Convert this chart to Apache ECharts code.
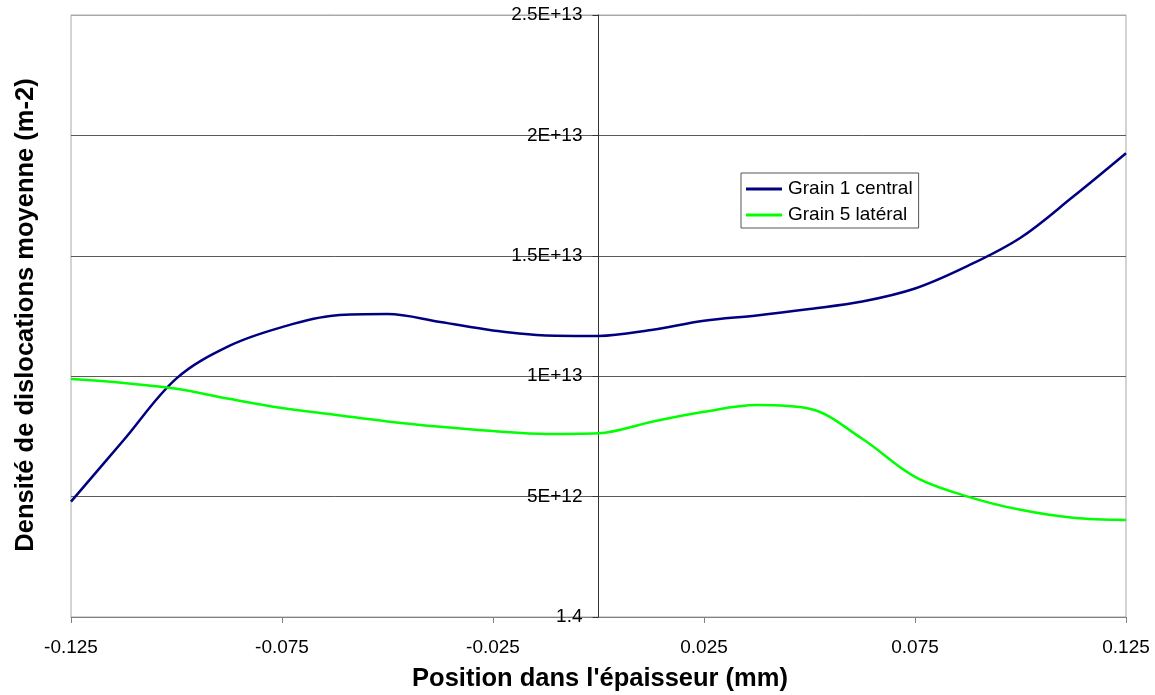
<!DOCTYPE html>
<html>
<head>
<meta charset="utf-8">
<script src="https://cdn.jsdelivr.net/npm/echarts@6/dist/echarts.min.js"></script>
<style>
html,body{margin:0;padding:0;background:#fff;}
#c{width:1155px;height:695px;}
</style>
</head>
<body>
<div id="c"></div>
<script>
// Data (x in mm, y in m-2)
const positions = [-0.125, -0.1125, -0.1, -0.0875, -0.075, -0.0625, -0.05, -0.0375, -0.025, -0.0125, 0,
                   0.0125, 0.025, 0.0375, 0.05, 0.0625, 0.075, 0.0875, 0.1, 0.1125, 0.125];
const grain1Central = [4.79e12, 7.35e12, 9.91e12, 11.26e12, 12.04e12, 12.52e12, 12.58e12, 12.25e12, 11.9e12, 11.69e12, 11.67e12,
                       11.92e12, 12.3e12, 12.52e12, 12.79e12, 13.1e12, 13.64e12, 14.58e12, 15.75e12, 17.46e12, 19.26e12];
const grain5Lateral = [9.88e12, 9.72e12, 9.48e12, 9.06e12, 8.68e12, 8.4e12, 8.12e12, 7.9e12, 7.72e12, 7.6e12, 7.63e12,
                       8.1e12, 8.52e12, 8.8e12, 8.65e12, 7.4e12, 5.82e12, 5.0e12, 4.45e12, 4.12e12, 4.03e12];
const seriesNames = ['Grain 1 central', 'Grain 5 latéral'];
const xTickLabels = ['-0.125', '-0.075', '-0.025', '0.025', '0.075', '0.125'];
const yTickLabels = ['1.4', '5E+12', '1E+13', '1.5E+13', '2E+13', '2.5E+13'];
const xTitle = "Position dans l'épaisseur (mm)";
const yTitle = 'Densité de dislocations moyenne (m-2)';

const FONT = "'Liberation Sans', Arial, sans-serif";
const pair = (ys) => positions.map((x, i) => [x, ys[i]]);

const chart = echarts.init(document.getElementById('c'), null, {renderer: 'canvas'});
chart.setOption({
  backgroundColor: '#ffffff',
  animation: false,
  textStyle: {fontFamily: FONT},
  grid: {left: 71, right: 29, top: 15, bottom: 78, containLabel: false, outerBoundsMode: 'none',
         show: true, borderColor: '#a8a8a8', borderWidth: 1, backgroundColor: '#ffffff'},
  legend: {
    orient: 'vertical', left: 741, top: 173,
    data: [{name: seriesNames[0], icon: 'rect'}, {name: seriesNames[1], icon: 'rect'}],
    itemWidth: 36, itemHeight: 3, itemGap: 6,
    padding: [6, 6, 3, 5],
    backgroundColor: '#ffffff', borderColor: '#555555', borderWidth: 1, borderRadius: 0,
    textStyle: {fontFamily: FONT, fontSize: 19, color: '#000', lineHeight: 20, padding: [0, 0, 0, 1]}
  },
  xAxis: {
    type: 'value', min: -0.125, max: 0.125, interval: 0.05,
    axisLine: {show: true, onZero: false, lineStyle: {color: '#808080', width: 1}},
    axisTick: {show: true, inside: false, length: 6, lineStyle: {color: '#808080'}},
    axisLabel: {show: true, margin: 21, fontFamily: FONT, fontSize: 19, color: '#000',
                showMinLabel: true, showMaxLabel: true,
                formatter: (v, i) => xTickLabels[i]},
    splitLine: {show: false}
  },
  yAxis: {
    type: 'value', min: 0, max: 2.5e13, interval: 5e12,
    position: 'left', offset: -527.5,
    axisLine: {show: true, onZero: false, lineStyle: {color: '#333333', width: 1}},
    axisTick: {show: true, inside: false, length: 6, lineStyle: {color: '#333333'}},
    axisLabel: {show: true, margin: 16, fontFamily: FONT, fontSize: 19, color: '#000',
                showMinLabel: true, showMaxLabel: true, padding: [2, 0, 0, 0],
                formatter: (v, i) => yTickLabels[i]},
    splitLine: {show: true, lineStyle: {color: ['#808080', '#5a5a5a', '#5a5a5a', '#5a5a5a', '#5a5a5a', '#a8a8a8'], width: 1}}
  },
  series: [
    {name: seriesNames[0], type: 'line', data: pair(grain1Central), smooth: 0.35,
     symbol: 'none', showSymbol: false, z: 3,
     lineStyle: {color: '#000080', width: 2.5}, itemStyle: {color: '#000080'}},
    {name: seriesNames[1], type: 'line', data: pair(grain5Lateral), smooth: 0.35,
     symbol: 'none', showSymbol: false, z: 3,
     lineStyle: {color: '#00ff00', width: 2.5}, itemStyle: {color: '#00ff00'}}
  ],
  graphic: [
    {type: 'text', x: 600, y: 679, style: {text: xTitle, fontFamily: FONT, fontSize: 25.5, fontWeight: 'bold',
      fill: '#000', textAlign: 'center', textVerticalAlign: 'middle'}},
    {type: 'text', x: 26, y: 315, rotation: Math.PI / 2, style: {text: yTitle, fontFamily: FONT, fontSize: 25.5, fontWeight: 'bold',
      fill: '#000', textAlign: 'center', textVerticalAlign: 'middle'}}
  ]
});
</script>
</body>
</html>
